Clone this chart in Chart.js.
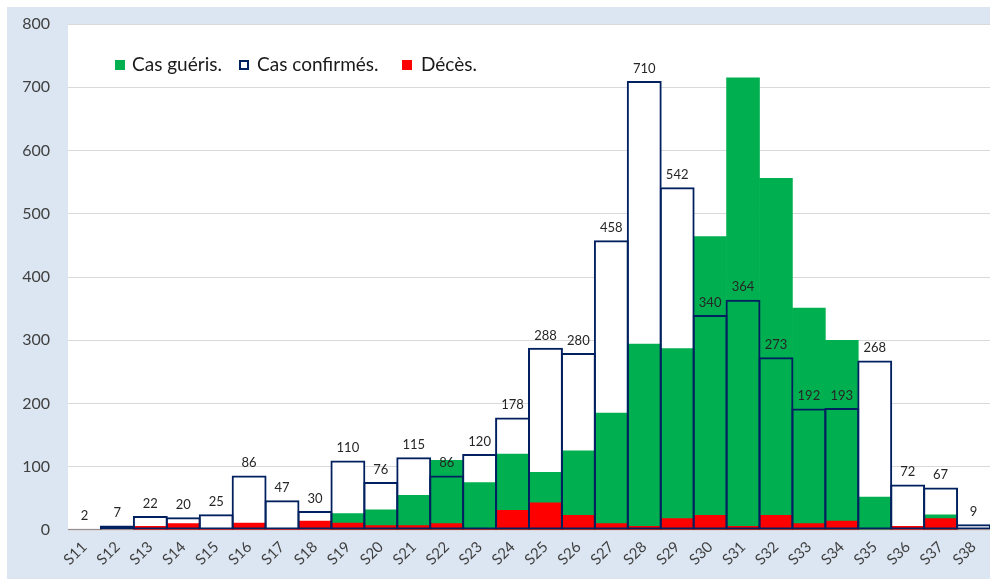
<!DOCTYPE html>
<html lang="fr">
<head>
<meta charset="utf-8">
<title>Cas par semaine</title>
<script src="https://cdn.jsdelivr.net/npm/chart.js@4/dist/chart.umd.min.js"></script>
<style>
    html, body { margin: 0; padding: 0; background: #fff; }
    canvas { display: block; }
</style>
</head>
<body>
<canvas id="casChart" width="990" height="579"></canvas>
<script>
// Semaines
const semaines = ['S11', 'S12', 'S13', 'S14', 'S15', 'S16', 'S17', 'S18', 'S19', 'S20',
    'S21', 'S22', 'S23', 'S24', 'S25', 'S26', 'S27', 'S28', 'S29', 'S30',
    'S31', 'S32', 'S33', 'S34', 'S35', 'S36', 'S37', 'S38'];

// Cas confirmés (valeurs affichées)
const casConfirmes = [2, 7, 22, 20, 25, 86, 47, 30, 110, 76,
    115, 86, 120, 178, 288, 280, 458, 710, 542, 340,
    364, 273, 192, 193, 268, 72, 67, 9];

// Cas guéris
const casGueris = [0, 0, 0, 0, 0, 0, 0, 0, 26, 32,
    55, 110, 75, 120, 91, 125, 185, 294, 287, 464,
    715, 556, 351, 300, 52, 0, 24, 0];

// Décès
const deces = [0, 0, 6, 10, 2, 11, 1, 14, 11, 7,
    7, 10, 2, 31, 43, 23, 10, 6, 18, 23,
    6, 23, 10, 14, 0, 6, 18, 0];

// Graduations de l'axe vertical
const graduations = [0, 100, 200, 300, 400, 500, 600, 700, 800];

const couleurs = {
    gueris: '#00b050',
    confirmes: '#002060',
    deces: '#ff0000',
    fond: '#dce6f2',
    grille: '#d9d9d9',
    texte: '#404040'
};

const police = 'Lato, "Open Sans", sans-serif';

// Fond bleu clair autour de la zone de tracé
const fondPlugin = {
    id: 'fond',
    beforeDraw(chart) {
        const { ctx, chartArea } = chart;
        ctx.save();
        ctx.fillStyle = '#ffffff';
        ctx.fillRect(0, 0, chart.width, chart.height);
        ctx.fillStyle = couleurs.fond;
        ctx.fillRect(7, 7, chart.width - 7, chart.height - 7);
        ctx.fillStyle = '#ffffff';
        ctx.fillRect(chartArea.left, chartArea.top, chartArea.right - chartArea.left, chartArea.bottom - chartArea.top);
        ctx.restore();
    }
};

// Étiquettes au-dessus des cas confirmés + légende
const etiquettesPlugin = {
    id: 'etiquettes',
    afterDatasetsDraw(chart) {
        const ctx = chart.ctx;
        const meta = chart.getDatasetMeta(3);
        ctx.save();
        ctx.font = '13px ' + police;
        ctx.fillStyle = '#262626';
        ctx.textAlign = 'center';
        ctx.textBaseline = 'bottom';
        meta.data.forEach(function (bar, i) {
            ctx.fillText(String(casConfirmes[i]), bar.x, bar.y - 6);
        });

        // Légende
        const items = [
            { texte: chart.data.datasets[1].label, carre: 115, x: 132, fill: couleurs.gueris, bord: null },
            { texte: chart.data.datasets[3].label, carre: 239, x: 257, fill: '#ffffff', bord: couleurs.confirmes },
            { texte: chart.data.datasets[2].label, carre: 402, x: 421, fill: couleurs.deces, bord: null }
        ];
        ctx.font = '19px ' + police;
        ctx.textAlign = 'left';
        ctx.textBaseline = 'middle';
        items.forEach(function (it) {
            ctx.fillStyle = it.fill;
            ctx.fillRect(it.carre, 60, 10, 10);
            if (it.bord) {
                ctx.strokeStyle = it.bord;
                ctx.lineWidth = 2;
                ctx.strokeRect(it.carre + 1, 61, 8, 8);
            }
            ctx.fillStyle = '#1a1a1a';
            ctx.fillText(it.texte, it.x, 65);
        });
        ctx.restore();
    }
};

const ctxCas = document.getElementById('casChart');
new Chart(ctxCas, {
    type: 'bar',
    data: {
        labels: semaines,
        datasets: [
            {
                label: 'fond confirmés',
                data: casConfirmes,
                backgroundColor: '#ffffff',
                borderWidth: 0,
                order: 4
            },
            {
                label: 'Cas guéris.',
                data: casGueris,
                backgroundColor: couleurs.gueris,
                borderWidth: 0,
                order: 3
            },
            {
                label: 'Décès.',
                data: deces,
                backgroundColor: couleurs.deces,
                borderWidth: 0,
                order: 2
            },
            {
                label: 'Cas confirmés.',
                data: casConfirmes,
                backgroundColor: 'rgba(0,0,0,0)',
                borderColor: couleurs.confirmes,
                borderWidth: 2,
                borderSkipped: false,
                barPercentage: 1.06,
                order: 1
            }
        ]
    },
    options: {
        responsive: false,
        animation: false,
        devicePixelRatio: 1,
        grouped: false,
        categoryPercentage: 1,
        barPercentage: 1,
        layout: {
            padding: { left: 0, top: 24, right: 0, bottom: 0 }
        },
        plugins: {
            legend: { display: false },
            tooltip: { enabled: false }
        },
        scales: {
            x: {
                grid: { display: false, drawTicks: false },
                border: { display: false },
                ticks: {
                    color: couleurs.texte,
                    font: { family: police, size: 15 },
                    maxRotation: 45,
                    minRotation: 45,
                    autoSkip: false,
                    padding: 8
                },
                afterFit(scale) {
                    scale.height = 49;
                    scale.paddingLeft = 0;
                    scale.paddingRight = 0;
                    scale.paddingTop = 0;
                    scale.paddingBottom = 0;
                }
            },
            y: {
                min: graduations[0],
                max: graduations[graduations.length - 1],
                grid: { color: couleurs.grille, drawTicks: false },
                border: { display: false },
                afterBuildTicks(scale) {
                    scale.ticks = graduations.map(v => ({ value: v }));
                },
                ticks: {
                    color: couleurs.texte,
                    font: { family: police, size: 16 },
                    padding: 18
                },
                afterFit(scale) {
                    scale.width = 68;
                    scale.paddingTop = 0;
                    scale.paddingBottom = 0;
                }
            }
        }
    },
    plugins: [fondPlugin, etiquettesPlugin]
});
</script>
</body>
</html>
